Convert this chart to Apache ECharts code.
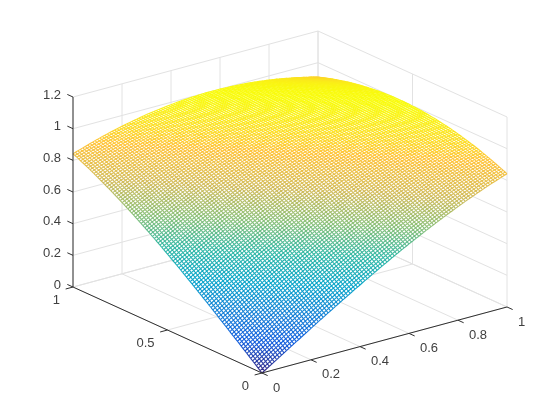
<!DOCTYPE html>
<html>
<head>
<meta charset="utf-8">
<style>
html, body { margin: 0; padding: 0; background: #fff; }
#chart { width: 560px; height: 420px; }
</style>
<script src="https://cdn.jsdelivr.net/npm/echarts@6/dist/echarts.min.js"></script>
</head>
<body>
<div id="chart"></div>
<script>
// surface height, it only depends on x + y (in steps of 0.01)
const surfaceZ = [
  0.000, 0.010, 0.020, 0.030, 0.040, 0.050, 0.060, 0.070, 0.080, 0.090,
  0.100, 0.110, 0.120, 0.130, 0.140, 0.149, 0.159, 0.169, 0.179, 0.189,
  0.199, 0.208, 0.218, 0.228, 0.238, 0.247, 0.257, 0.267, 0.276, 0.286,
  0.296, 0.305, 0.315, 0.324, 0.333, 0.343, 0.352, 0.362, 0.371, 0.380,
  0.389, 0.399, 0.408, 0.417, 0.426, 0.435, 0.444, 0.453, 0.462, 0.471,
  0.479, 0.488, 0.497, 0.506, 0.514, 0.523, 0.531, 0.540, 0.548, 0.556,
  0.565, 0.573, 0.581, 0.589, 0.597, 0.605, 0.613, 0.621, 0.629, 0.637,
  0.644, 0.652, 0.659, 0.667, 0.674, 0.682, 0.689, 0.696, 0.703, 0.710,
  0.717, 0.724, 0.731, 0.738, 0.745, 0.751, 0.758, 0.764, 0.771, 0.777,
  0.783, 0.790, 0.796, 0.802, 0.808, 0.813, 0.819, 0.825, 0.831, 0.836,
  0.841, 0.847, 0.852, 0.857, 0.862, 0.867, 0.872, 0.877, 0.882, 0.887,
  0.891, 0.896, 0.900, 0.904, 0.909, 0.913, 0.917, 0.921, 0.925, 0.928,
  0.932, 0.936, 0.939, 0.942, 0.946, 0.949, 0.952, 0.955, 0.958, 0.961,
  0.964, 0.966, 0.969, 0.971, 0.973, 0.976, 0.978, 0.980, 0.982, 0.984,
  0.985, 0.987, 0.989, 0.990, 0.991, 0.993, 0.994, 0.995, 0.996, 0.997,
  0.997, 0.998, 0.999, 0.999, 1.000, 1.000, 1.000, 1.000, 1.000, 1.000,
  1.000, 0.999, 0.999, 0.998, 0.998, 0.997, 0.996, 0.995, 0.994, 0.993,
  0.992, 0.990, 0.989, 0.987, 0.986, 0.984, 0.982, 0.980, 0.978, 0.976,
  0.974, 0.971, 0.969, 0.967, 0.964, 0.961, 0.958, 0.955, 0.952, 0.949,
  0.946, 0.943, 0.940, 0.936, 0.933, 0.929, 0.925, 0.921, 0.917, 0.913,
  0.909
]
const meshSteps = 100

const xTicks = [0, 0.2, 0.4, 0.6, 0.8, 1]
const xTickLabels = ['0', '0.2', '0.4', '0.6', '0.8', '1']
const yTicks = [0, 0.5, 1]
const yTickLabels = ['0', '0.5', '1']
const zTicks = [0, 0.2, 0.4, 0.6, 0.8, 1, 1.2]
const zTickLabels = ['0', '0.2', '0.4', '0.6', '0.8', '1', '1.2']
const zTop = 1.2

const parula = ['#352a87', '#0f5cdd', '#1481d6', '#06a4ca', '#2eb7a4', '#87bf77', '#d1bb59', '#fec237', '#f9fb0e']

// view plane of the fixed 3D camera, one unit is one unit of z
const view = { xu: 1.548, xv: 0.417, yu: -1.194, yv: 0.543 }
const project = (x, y, z) => [view.xu * x + view.yu * y, view.xv * x + view.yv * y + z]

const tickLen = 0.03
const gridColor = '#e2e2e2'
const axisColor = '#303030'
const labelColor = '#404040'
const labelFont = '13px "Liberation Sans", Arial, sans-serif'

// light lines on the floor and on the two back walls
const gridSegments = []
xTicks.forEach(x => {
  gridSegments.push([[x, 0, 0], [x, 1, 0]], [[x, 1, 0], [x, 1, zTop]])
})
yTicks.forEach(y => {
  gridSegments.push([[0, y, 0], [1, y, 0]], [[1, y, 0], [1, y, zTop]])
})
zTicks.forEach(z => {
  gridSegments.push([[0, 1, z], [1, 1, z]], [[1, 1, z], [1, 0, z]])
})

// dark axis lines and tick marks
const axisSegments = [
  [[0, 0, 0], [1, 0, 0]],
  [[0, 0, 0], [0, 1, 0]],
  [[0, 1, 0], [0, 1, zTop]]
]
xTicks.forEach(x => axisSegments.push([[x, 0, 0], [x, -tickLen, 0]]))
yTicks.forEach(y => axisSegments.push([[0, y, 0], [-tickLen, y, 0]]))
zTicks.forEach(z => axisSegments.push([[0, 1, z], [0, 1 + tickLen, z]]))

const segmentsPath = (api, segments) => {
  return segments.map(seg => {
    const a = api.coord(project(seg[0][0], seg[0][1], seg[0][2]))
    const b = api.coord(project(seg[1][0], seg[1][1], seg[1][2]))
    return 'M' + a[0] + ' ' + a[1] + 'L' + b[0] + ' ' + b[1]
  }).join('')
}

const segmentSeries = (segments, color, width) => ({
  type: 'custom',
  silent: true,
  animation: false,
  data: [[0, 0]],
  renderItem: (params, api) => ({
    type: 'path',
    shape: { pathData: segmentsPath(api, segments) },
    style: { fill: 'none', stroke: color, lineWidth: width }
  })
})

// white faces of the mesh hide the grid lines behind it
const outlinePoints = (api) => {
  const pts = []
  const add = (i, j) => pts.push(api.coord(project(i / meshSteps, j / meshSteps, surfaceZ[i + j])))
  for (let i = 0; i <= meshSteps; i++) add(i, 0)
  for (let j = 1; j <= meshSteps; j++) add(meshSteps, j)
  for (let i = meshSteps - 1; i >= 0; i--) add(i, meshSteps)
  for (let j = meshSteps - 1; j > 0; j--) add(0, j)
  return pts
}

// every x + y band shares one height, so one colour and one path
const bandPath = (api, k) => {
  const segments = []
  const z = surfaceZ[k]
  const from = Math.max(0, k - meshSteps)
  const to = Math.min(meshSteps, k)
  for (let i = from; i <= to; i++) {
    const j = k - i
    if (i < meshSteps) {
      segments.push([[i / meshSteps, j / meshSteps, z], [(i + 1) / meshSteps, j / meshSteps, surfaceZ[k + 1]]])
    }
    if (j < meshSteps) {
      segments.push([[i / meshSteps, j / meshSteps, z], [i / meshSteps, (j + 1) / meshSteps, surfaceZ[k + 1]]])
    }
  }
  return segmentsPath(api, segments)
}

const tickLabelSeries = (ticks, labels, toPoint, align, dx, dy) => ({
  type: 'custom',
  silent: true,
  animation: false,
  data: ticks.map((t, i) => [t, i]),
  renderItem: (params, api) => {
    const p = api.coord(toPoint(ticks[params.dataIndex]))
    return {
      type: 'text',
      x: p[0] + dx,
      y: p[1] + dy,
      style: {
        text: labels[params.dataIndex],
        font: labelFont,
        fill: labelColor,
        align: align,
        verticalAlign: 'middle'
      }
    }
  }
})

const chart = echarts.init(document.getElementById('chart'))
chart.setOption({
  backgroundColor: '#fff',
  animation: false,
  grid: { left: 73, top: 31, width: 434, height: 342 },
  xAxis: { type: 'value', min: view.yu, max: view.xu, show: false },
  yAxis: { type: 'value', min: 0, max: view.xv + view.yv + zTop, show: false },
  visualMap: {
    show: false,
    seriesIndex: 2,
    dimension: 1,
    min: 0,
    max: 1,
    inRange: { color: parula }
  },
  series: [
    segmentSeries(gridSegments, gridColor, 1),
    {
      type: 'custom',
      silent: true,
      animation: false,
      data: [[0, 0]],
      renderItem: (params, api) => ({
        type: 'polygon',
        shape: { points: outlinePoints(api) },
        style: { fill: '#fff' }
      })
    },
    {
      type: 'custom',
      silent: true,
      animation: false,
      data: surfaceZ.map((z, k) => [k, z]),
      renderItem: (params, api) => ({
        type: 'path',
        shape: { pathData: bandPath(api, params.dataIndex) },
        style: { fill: 'none', stroke: api.visual('color'), lineWidth: 1.08 }
      })
    },
    segmentSeries(axisSegments, axisColor, 1),
    tickLabelSeries(xTicks, xTickLabels, t => project(t, 0, 0), 'left', 11, 15),
    tickLabelSeries(yTicks, yTickLabels, t => project(0, t, 0), 'right', -13, 13),
    tickLabelSeries(zTicks, zTickLabels, t => project(0, 1, t), 'right', -12, -2)
  ]
})
</script>
</body>
</html>
